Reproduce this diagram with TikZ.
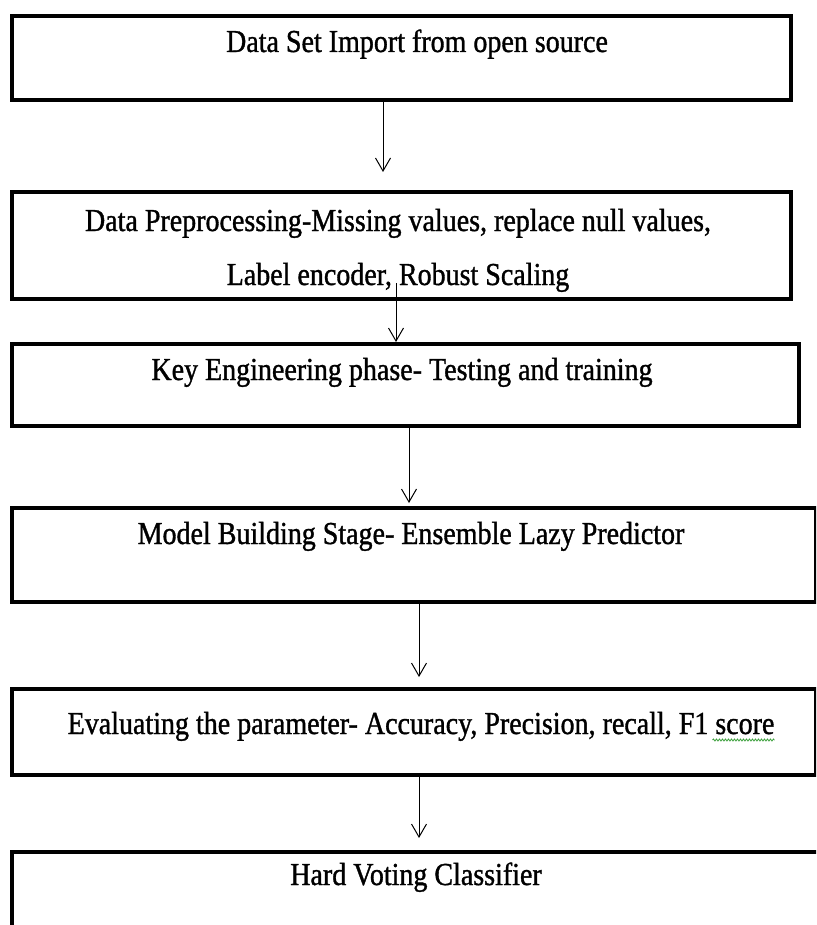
\documentclass[tikz,border=0pt]{standalone}
\usepackage{fontspec}
\setmainfont[FakeStretch=0.875,FakeBold=1.1]{Liberation Serif}
\usepackage{xcolor}
\usetikzlibrary{arrows.meta,decorations.pathmorphing}

\begin{document}
\begin{tikzpicture}[x=1pt,y=1pt,yscale=-1,
	stage/.style={draw, line width=4pt, inner sep=0pt, anchor=north west},
	txt/.style={font=\fontsize{32}{36}\selectfont, inner sep=0pt, anchor=base},
	flow/.style={line width=1pt, -{Straight Barb[length=13pt,width=15pt,line width=1pt]}}]
	\useasboundingbox (0,0) rectangle (816,925);
	\clip (0,0) rectangle (816,925);
	
	%Shape: Rectangle [stage 1]
	\node [stage, minimum width=779pt, minimum height=84pt] (b1) at (10,14) {};
	%Shape: Rectangle [stage 2]
	\node [stage, minimum width=779pt, minimum height=107pt] (b2) at (10,190) {};
	%Shape: Rectangle [stage 3]
	\node [stage, minimum width=787pt, minimum height=82pt] (b3) at (10,342) {};
	%Shape: Rectangle [stage 4]
	\node [stage, minimum width=804pt, minimum height=94pt] (b4) at (10,506) {};
	%Shape: Rectangle [stage 5]
	\node [stage, minimum width=804pt, minimum height=86pt] (b5) at (10,687) {};
	%Shape: Rectangle [stage 6]
	\node [stage, minimum width=816pt, minimum height=110pt] (b6) at (10,850) {};
	
	% Text Node
	\node [txt] (t1) at (417,52) {Data Set Import from open source};
	% Text Node
	\node [txt] (t2a) at (398,231) {Data Preprocessing-Missing values, replace null values,};
	% Text Node
	\node [txt] (t2b) at (398,285) {Label encoder, Robust Scaling};
	% Text Node
	\node [txt] (t3) at (402,380) {Key Engineering phase- Testing and training};
	% Text Node
	\node [txt] (t4) at (411,544) {Model Building Stage- Ensemble Lazy Predictor};
	% Text Node
	\node [txt] (t5) at (421,734) {Evaluating the parameter- Accuracy, Precision, recall, F1 score};
	% Text Node
	\node [txt] (t6) at (416,885) {Hard Voting Classifier};
	
	%spell check mark
	\draw [color={rgb, 255:red, 60; green, 160; blue, 60 }, line width=0.8pt, decorate, decoration={snake, amplitude=1pt, segment length=3pt}] ([xshift=-62pt]t5.base east) ++(0,6) -- ++(62,0);
	
	%Straight Lines
	\coordinate (e1) at (383,172);
	\draw [flow] (b1.south -| e1) -- (e1);
	\coordinate (s2) at (396,283);
	\draw [flow] (s2) -- (s2 |- b3.north);
	\coordinate (e3) at (409,503);
	\draw [flow] (b3.south -| e3) -- (e3);
	\coordinate (e4) at (419,677);
	\draw [flow] (b4.south -| e4) -- (e4);
	\coordinate (e5) at (419,838);
	\draw [flow] (b5.south -| e5) -- (e5);
	
\end{tikzpicture}
\end{document}
